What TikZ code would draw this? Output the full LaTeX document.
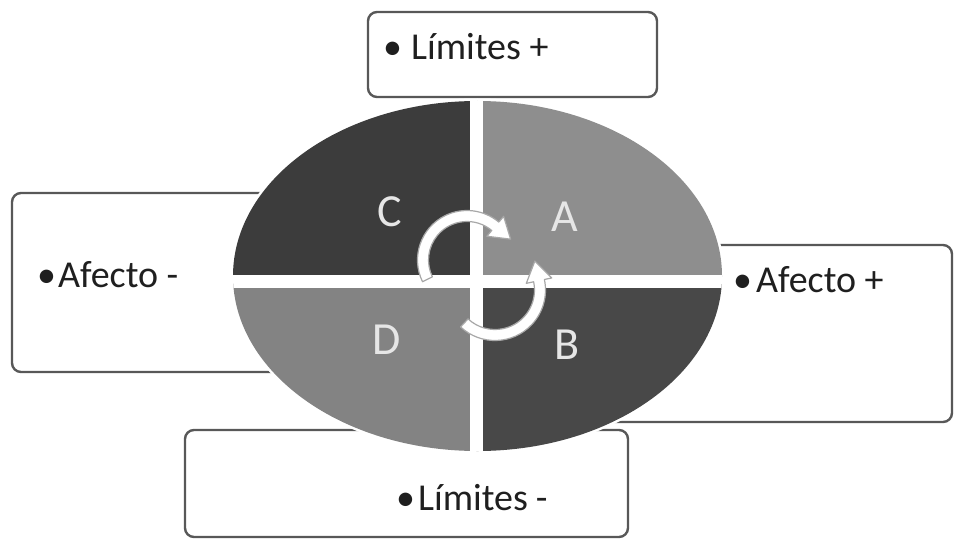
\documentclass[tikz,border=0pt]{standalone}
\usepackage{fontspec}
\setmainfont{Carlito}
\usepackage{tikz}
\usetikzlibrary{calc, positioning}
\definecolor{figline}{HTML}{585858}
\definecolor{figC}{HTML}{3C3C3C}
\definecolor{figA}{HTML}{8E8E8E}
\definecolor{figD}{HTML}{838383}
\definecolor{figB}{HTML}{484848}
\definecolor{figletter}{HTML}{E6E6E6}
\definecolor{figturn}{HTML}{A8A8A8}
\tikzset{
  labelbox/.style={draw=figline, line width=2.4pt, rounded corners=9pt,
    inner sep=0pt, fill=none},
  labeltext/.style={font=\fontsize{38}{40}\selectfont, text=black!88,
    inner sep=0pt, anchor=base west},
  quadletter/.style={font=\fontsize{46}{48}\selectfont, text=figletter,
    inner sep=0pt},
  gapline/.style={white, line width=13pt},
  turnarrow/.style={draw=figturn, fill=white, line width=1.2pt, line join=round},
}

\begin{document}
\begin{tikzpicture}[x=1pt,y=1pt]
  \useasboundingbox (0,0) rectangle (955,542);
  % Cajas (quedan detras de la elipse)
  \node[labelbox, minimum width=289, minimum height=85] (boxlimmas) at (512.5,487.5) {};
  \node[labelbox, minimum width=428, minimum height=179] (boxafmenos) at (226,259.5) {};
  \node[labelbox, minimum width=432, minimum height=177] (boxafmas) at (736,208.5) {};
  \node[labelbox, minimum width=443, minimum height=107] (boxlimmenos) at (406.5,58.5) {};

  % Elipse en cuatro cuadrantes
  \coordinate (E) at (477.5,266);
  \coordinate (O) at (476,261);
  \draw[white, line width=5pt] (E) ellipse [x radius=244.5, y radius=175];
  \begin{scope}
    \clip (E) ellipse [x radius=244.5, y radius=175];
    \fill[figC] (O) rectangle ++(-260,190);
    \fill[figA] (O) rectangle ++(260,190);
    \fill[figD] (O) rectangle ++(-260,-190);
    \fill[figB] (O) rectangle ++(260,-190);
    \draw[gapline] ($(O)+(-260,0)$) -- ($(O)+(260,0)$);
    \draw[gapline] ($(O)+(0,-190)$) -- ($(O)+(0,190)$);
  \end{scope}
  \node[quadletter] (qC) at (390,330) {C};
  \node[quadletter] (qA) at (565,325) {A};
  \node[quadletter] (qD) at (387,202) {D};
  \node[quadletter] (qB) at (567,197) {B};

  % Flechas circulares del centro
  \coordinate (c1) at (467,282);
  \coordinate (c2) at (495,252);
  \draw[turnarrow] ($(c1)+(206:49.5)$) arc[start angle=206, end angle=50, radius=49.5]
    -- ($(c1)+(50:57)$) -- ($(c1)+(50:44)+(-40:20)$) -- ($(c1)+(50:31)$)
    -- ($(c1)+(50:38.5)$) arc[start angle=50, end angle=206, radius=38.5] -- cycle;
  \draw[turnarrow] ($(c2)+(227:50.5)$) arc[start angle=227, end angle=372, radius=50.5]
    -- ($(c2)+(372:58)$) -- ($(c2)+(372:45)+(462:20)$) -- ($(c2)+(372:32)$)
    -- ($(c2)+(372:39.5)$) arc[start angle=372, end angle=227, radius=39.5] -- cycle;

  % Textos de las cajas
  \node[labeltext] (tlimmas) at (383,482) {•\hspace{9pt}Límites +};
  \node[labeltext] (tafmenos) at (37,255) {•\hspace{2pt}Afecto -};
  \node[labeltext] (tafmas) at (733,250) {•\hspace{4pt}Afecto +};
  \node[labeltext] (tlimmenos) at (396,32) {•\hspace{3pt}Límites\hspace{8pt}-};
\end{tikzpicture}
\end{document}
